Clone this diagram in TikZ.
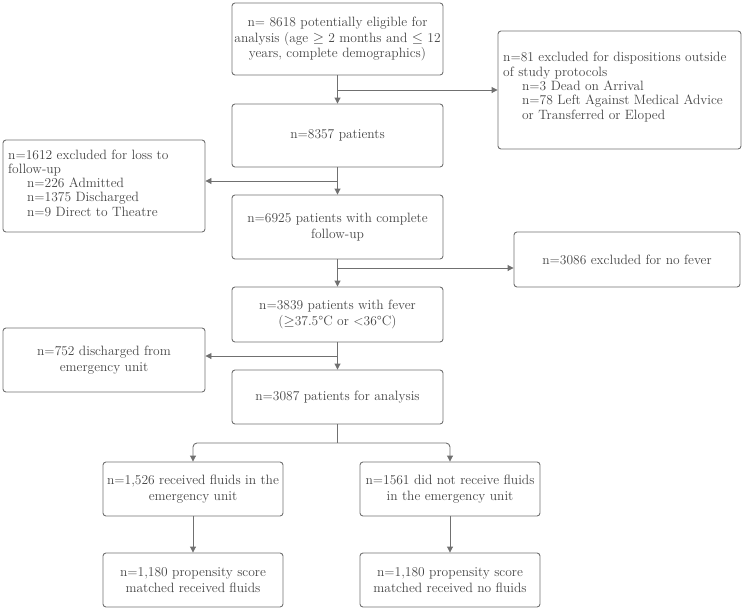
\documentclass[tikz,border=0pt]{standalone}
\usetikzlibrary{arrows.meta}
\definecolor{linecol}{HTML}{707070}
\definecolor{textcol}{HTML}{454545}
\tikzset{
  bx/.style={draw=linecol, line width=0.9pt, rounded corners=3pt, text=textcol,
    font=\fontsize{13.5}{15.8}\selectfont, align=center, inner sep=0pt},
  lt/.style={text=textcol, font=\fontsize{13.5}{14.3}\selectfont, align=left, anchor=west, inner sep=0pt},
  arr/.style={draw=linecol, line width=0.9pt, -{Triangle[width=6pt,length=6pt]}},
  ln/.style={draw=linecol, line width=0.9pt}
}
\begin{document}
\begin{tikzpicture}[x=1pt,y=-1pt]
\useasboundingbox (0,0) rectangle (749,611);
% main column
\node[bx, minimum width=211pt, minimum height=72pt] (A) at (337.5,39)
  {n= 8618 potentially eligible for\\analysis (age $\geq$ 2 months and $\leq$ 12\\years, complete demographics)};
\node[bx, minimum width=211pt, minimum height=63pt] (B) at (337.5,135.5) {n=8357 patients};
\node[bx, minimum width=211pt, minimum height=64pt] (C) at (337.5,227) {n=6925 patients with complete\\follow-up};
\node[bx, minimum width=211pt, minimum height=55pt] (D) at (337.5,314.5) {n=3839 patients with fever\\($\geq$37.5°C or \textless36°C)};
\node[bx, minimum width=211pt, minimum height=54pt] (E) at (337.5,397) {n=3087 patients for analysis};
% side boxes
\node[bx, minimum width=243pt, minimum height=118pt] (R1) at (619.5,90) {};
\node[lt] (R1t) at (503,87)
  {n=81 excluded for dispositions outside\\of study protocols\\\hspace*{1.4em}n=3 Dead on Arrival\\\hspace*{1.4em}n=78 Left Against Medical Advice\\\hspace*{1.4em}or Transferred or Eloped};
\node[bx, minimum width=202pt, minimum height=92pt] (L1) at (104,186) {};
\node[lt] (L1t) at (8,183)
  {n=1612 excluded for loss to\\follow-up\\\hspace*{1.4em}n=226 Admitted\\\hspace*{1.4em}n=1375 Discharged\\\hspace*{1.4em}n=9 Direct to Theatre};
\node[bx, minimum width=226pt, minimum height=55pt] (R2) at (627,259.5) {n=3086 excluded for no fever};
\node[bx, minimum width=202pt, minimum height=64pt] (L2) at (104,360) {n=752 discharged from\\emergency unit};
% bottom boxes
\node[bx, minimum width=180pt, minimum height=54pt] (F1) at (193,489) {n=1,526 received fluids in the\\emergency unit};
\node[bx, minimum width=180pt, minimum height=54pt] (F2) at (450,489) {n=1561 did not receive fluids\\in the emergency unit};
\node[bx, minimum width=180pt, minimum height=54pt] (G1) at (193,580) {n=1,180 propensity score\\matched received fluids};
\node[bx, minimum width=180pt, minimum height=54pt] (G2) at (450,580) {n=1,180 propensity score\\matched received no fluids};
% branch points
\coordinate (j1) at (337.5,90);
\coordinate (j2) at (337.5,181);
\coordinate (j3) at (337.5,268);
\coordinate (j4) at (337.5,356);
\coordinate (j5) at (337.5,443);
% connectors
\draw[arr] (A) -- (B);
\draw[arr] (j1) -- (R1.west |- j1);
\draw[arr] (B) -- (C);
\draw[arr] (j2) -- (L1.east |- j2);
\draw[arr] (C) -- (D);
\draw[arr] (j3) -- (R2.west |- j3);
\draw[arr] (D) -- (E);
\draw[arr] (j4) -- (L2.east |- j4);
\draw[ln] (E) -- (j5);
\draw[arr, rounded corners=4pt] (j5) -| (F1.north);
\draw[arr, rounded corners=4pt] (j5) -| (F2.north);
\draw[arr] (F1) -- (G1);
\draw[arr] (F2) -- (G2);
\end{tikzpicture}
\end{document}
